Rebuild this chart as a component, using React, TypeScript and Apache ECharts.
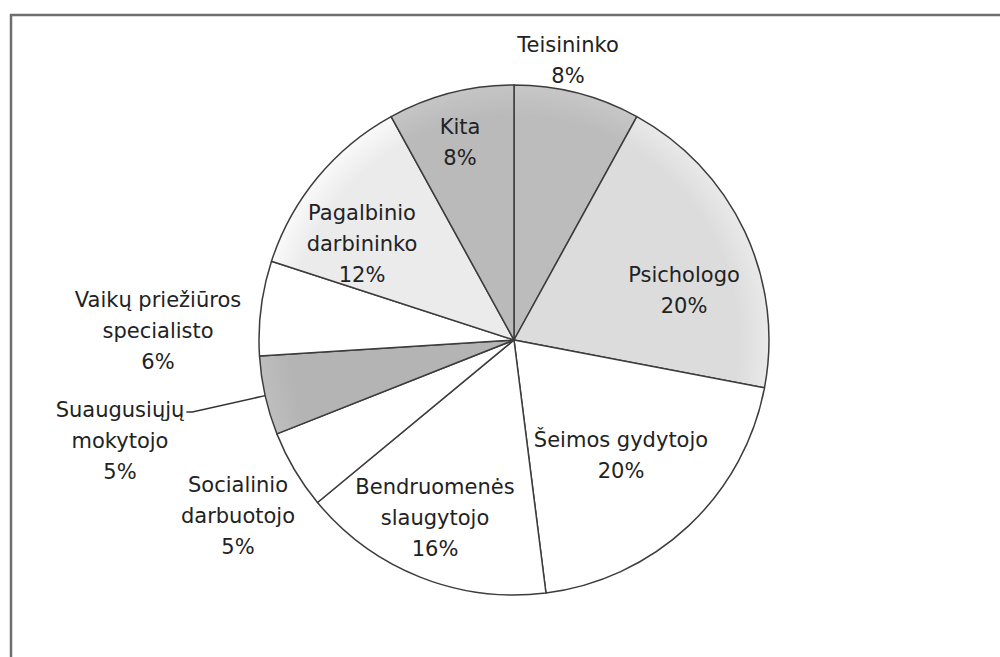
import React, { useEffect, useRef } from "react";
import * as echarts from "echarts";

// Data
const categories = [
  "Teisininko",
  "Psichologo",
  "Šeimos gydytojo",
  "Bendruomenės\nslaugytojo",
  "Socialinio\ndarbuotojo",
  "Suaugusiųjų\nmokytojo",
  "Vaikų priežiūros\nspecialisto",
  "Pagalbinio\ndarbininko",
  "Kita",
];
const values = [8, 20, 20, 16, 5, 5, 6, 12, 8];

// Styles (kept apart from data)
const sliceColors = [
  "#bcbcbc",
  "#dcdcdc",
  "#ffffff",
  "#ffffff",
  "#ffffff",
  "#b4b4b4",
  "#ffffff",
  "#ebebeb",
  "#bababa",
];
const labelMode = ["outside", "inside", "inside", "inside", "outside", "outside", "outside", "inside", "inside"];
const labelLeader = [false, false, false, false, false, true, false, false, false];
// label block centres (page px)
const labelPos: [number, number][] = [
  [568, 60],
  [684, 290],
  [621, 455],
  [435, 518],
  [238, 516],
  [120, 441],
  [158, 331],
  [362, 244],
  [460, 142],
];

const CX = 514;
const CY = 340;
const R = 255;
const LINE_H = 31;

const total = values.reduce((a, b) => a + b, 0);
const midAngles = values.map((v, i) => {
  const before = values.slice(0, i).reduce((a, b) => a + b, 0);
  return ((before + v / 2) / total) * Math.PI * 2;
});

function shade(c: string) {
  return {
    type: "radial",
    x: CX,
    y: CY,
    r: R,
    global: true,
    colorStops: [
      { offset: 0, color: c },
      { offset: 0.88, color: c },
      { offset: 1, color: echarts.color.lift(c, -0.06) },
    ],
  };
}

export default function App() {
  const ref = useRef<HTMLDivElement>(null);
  useEffect(() => {
    if (!ref.current) return;
    const chart = echarts.init(ref.current, undefined, { renderer: "svg" });
    const data = categories.map((name, i) => ({
      name,
      value: values[i],
      itemStyle: { color: shade(sliceColors[i]) },
      label: { position: labelMode[i] },
      labelLine: { show: labelLeader[i], length: 10, length2: 10, lineStyle: { color: "#333", width: 1.5 } },
    }));
    chart.setOption({
      animation: false,
      backgroundColor: "#ffffff",
      graphic: [
        {
          type: "rect",
          shape: { x: 11, y: 15, width: 1000, height: 700 },
          style: { fill: "none", stroke: "#6e6e6e", lineWidth: 2.5 },
          silent: true,
        },
      ],
      series: [
        {
          type: "pie",
          center: [CX, CY],
          radius: [0, R],
          startAngle: 90,
          clockwise: true,
          avoidLabelOverlap: false,
          itemStyle: { borderColor: "#3c3c3c", borderWidth: 1.5 },
          label: {
            show: true,
            formatter: (p: any) => `${p.name}\n${p.value}%`,
            fontFamily: "DejaVu Sans",
            fontSize: 21,
            lineHeight: LINE_H,
            color: "#222222",
            align: "center",
          },
          labelLayout: (params: any) => {
            const i = params.dataIndex;
            const p = labelPos[i];
            const res: any = { x: p[0], y: p[1], align: "center", verticalAlign: "middle" };
            if (labelLeader[i]) {
              const a = midAngles[i];
              const edge = [CX + R * Math.sin(a), CY - R * Math.cos(a)];
              const w = params.labelRect.width;
              const lines = String(categories[i]).split("\n").length + 1;
              const firstY = p[1] - ((lines - 1) / 2) * LINE_H + 2;
              const start = [p[0] + w / 2 + 2, firstY];
              res.labelLinePoints = [start, [start[0] + 6, firstY], edge];
            }
            return res;
          },
          data,
        },
      ],
    });
    return () => chart.dispose();
  }, []);
  return (
    <div
      ref={ref}
      style={{ position: "fixed", left: 0, top: 0, width: 1000, height: 657, background: "#fff" }}
    />
  );
}
